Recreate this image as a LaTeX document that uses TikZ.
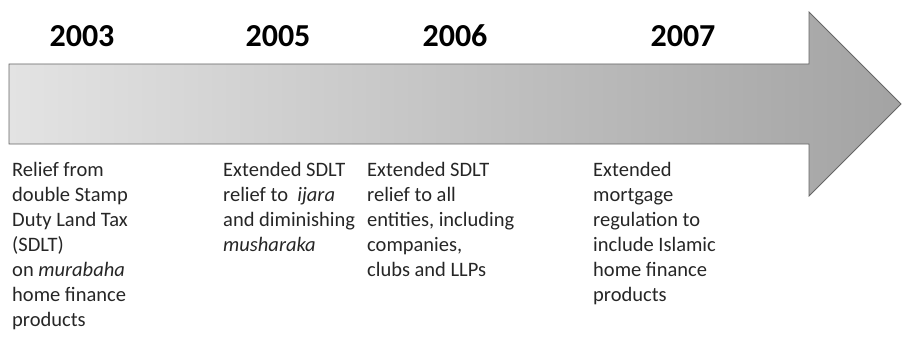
\documentclass[tikz,border=0pt]{standalone}
\usepackage{fontspec}
\setmainfont{Carlito}

\begin{document}
\begin{tikzpicture}[x=1pt,y=-1pt,
    year/.style={font=\fontsize{32}{38}\selectfont\bfseries, inner sep=0pt, anchor=base},
    note/.style={font=\fontsize{20.5}{25}\selectfont, align=left, anchor=north west, inner sep=0pt, text=black!85}]
    \useasboundingbox (0,0) rectangle (902,337);
    % timeline arrow
    \draw[line width=0.8pt, draw=black!60, left color=black!11, right color=black!36]
      (9,64) -- (809,64) -- (809,12) -- (901,104) -- (809,196) -- (809,144) -- (9,144) -- cycle;
    % years
    \node[year] (y2003) at (82,47) {2003};
    \node[year] (y2005) at (278,47) {2005};
    \node[year] (y2006) at (455,47) {2006};
    \node[year] (y2007) at (683,47) {2007};
    % events
    \node[note] (e2003) at (12,159) {\strut Relief from\\double Stamp\\Duty Land Tax\\(SDLT)\\on \textit{murabaha}\\home finance\\products};
    \node[note] (e2005) at (223,159) {\strut Extended SDLT\\relief to\ \ \textit{ijara}\\and diminishing\\\textit{musharaka}};
    \node[note] (e2006) at (367,159) {\strut Extended SDLT\\relief to all\\entities, including\\companies,\\clubs and LLPs};
    \node[note] (e2007) at (593,159) {\strut Extended\\mortgage\\regulation to\\include Islamic\\home finance\\products};
\end{tikzpicture}
\end{document}
